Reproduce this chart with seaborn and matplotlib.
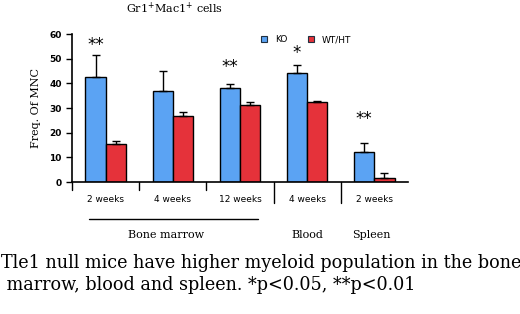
import numpy as np
import pandas as pd
import matplotlib
matplotlib.use("Agg")
import matplotlib.pyplot as plt
from matplotlib.lines import Line2D
import seaborn as sns

# --- DATA ---
groups = ["bm_2w", "bm_4w", "bm_12w", "blood_4w", "spleen_2w"]
tick_labels = ["2 weeks", "4 weeks", "12 weeks", "4 weeks", "2 weeks"]
genotypes = ["KO", "WT/HT"]
ko_mean = [42.5, 37.0, 38.2, 44.3, 12.3]
ko_err = [8.8, 8.0, 1.5, 3.3, 3.6]
wt_mean = [15.4, 26.8, 31.2, 32.5, 1.5]
wt_err = [1.4, 1.4, 1.3, 0.5, 2.0]
stars = ["**", "", "**", "*", "**"]
star_y = [52.0, None, 43.0, 48.5, 22.0]
tissues = ["Bone marrow", "Blood", "Spleen"]

KO_COLOR = "#5ba3f3"
WT_COLOR = "#e5323a"

df = pd.DataFrame({
    "group": groups * 2,
    "genotype": [genotypes[0]] * 5 + [genotypes[1]] * 5,
    "freq": ko_mean + wt_mean,
    "err": ko_err + wt_err,
})

sns.set_style("ticks")
plt.rcParams["font.family"] = ["DejaVu Sans"]
plt.rcParams.update({"text.color": "black", "axes.labelcolor": "black",
                     "xtick.color": "black", "ytick.color": "black"})

fig = plt.figure(figsize=(5.2, 3.14), dpi=100)
ax = fig.add_axes([72 / 520, 1 - 182 / 314, 336 / 520, 148 / 314])

sns.barplot(data=df, x="group", y="freq", hue="genotype", order=groups,
            hue_order=genotypes, palette=[KO_COLOR, WT_COLOR], width=0.6,
            errorbar=None, edgecolor="black", linewidth=1.0, saturation=1,
            legend=False, ax=ax)

# one-sided error bars from the bar patches
for patch_set, errs in ((ax.patches[:5], ko_err), (ax.patches[5:10], wt_err)):
    xs = [p.get_x() + p.get_width() / 2 for p in patch_set]
    hs = [p.get_height() for p in patch_set]
    ax.errorbar(xs, hs, yerr=[np.zeros(len(errs)), errs], fmt="none",
                ecolor="black", elinewidth=1.0, capsize=3, capthick=1.0, zorder=3)

for p, s, y in zip(ax.patches[:5], stars, star_y):
    if s:
        ax.text(p.get_x() + p.get_width() / 2, y, s, ha="center", va="bottom",
                fontsize=12, color="black")

ax.set_xlim(-0.5, 4.5)
ax.set_ylim(0, 60)
ax.set_yticks(range(0, 61, 10))
ax.set_yticklabels([str(v) for v in range(0, 61, 10)], fontsize=6.5, fontweight="bold")
ax.set_xticks(range(5))
ax.set_xticklabels(tick_labels, fontsize=6.5)
ax.tick_params(axis="x", length=0, pad=9)
ax.tick_params(axis="y", length=4, width=1, color="black")
ax.set_xlabel("")
ax.set_ylabel("Freq. Of MNC", family="DejaVu Serif", fontsize=8, labelpad=6)
for side in ("left", "bottom"):
    ax.spines[side].set_color("black")
    ax.spines[side].set_linewidth(1.2)
sns.despine(ax=ax)

# group separators below the axis
trans = ax.get_xaxis_transform()
for xb, long in zip([-0.5, 0.5, 1.5, 2.5, 3.5], [False, False, False, True, True]):
    ax.plot([xb, xb], [0, -(21 if long else 8) / 148], color="black", lw=1.0,
            transform=trans, clip_on=False)
# bone marrow underline
ax.plot([-0.25, 2.27], [-37 / 148, -37 / 148], color="black", lw=1.0,
        transform=trans, clip_on=False)
for xc, t in zip([0.9, 3.0, 3.95], tissues):
    ax.text(xc, -53 / 148, t, transform=trans, ha="center", va="center",
            family="DejaVu Serif", fontsize=8)

handles = [Line2D([], [], marker="s", linestyle="", markersize=5,
                  markerfacecolor=c, markeredgecolor="#203040", markeredgewidth=0.8)
           for c in (KO_COLOR, WT_COLOR)]
ax.legend(handles, genotypes, loc="center left", bbox_to_anchor=(0.535, 0.96),
          ncol=2, frameon=False, fontsize=6.5, handletextpad=0.2,
          columnspacing=1.6, borderaxespad=0)

fig.text(175 / 520, 1 - 8 / 314, "Gr1$^{+}$Mac1$^{+}$ cells", ha="center", va="center",
         family="DejaVu Serif", fontsize=8)

caption = ("Tle1 null mice have higher myeloid population in the bone\n"
           " marrow, blood and spleen. *p<0.05, **p<0.01")
fig.text(1 / 520, 1 - 274 / 314, caption, ha="left", va="center",
         family="DejaVu Serif", fontsize=12.7, linespacing=1.25)

fig.savefig("out.png", dpi=100)
